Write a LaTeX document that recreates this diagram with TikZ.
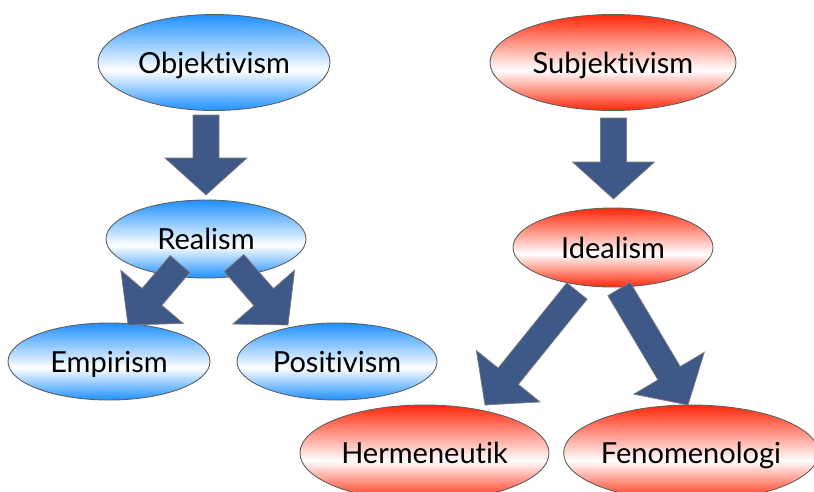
\documentclass[tikz,border=0pt]{standalone}
\usepackage{fontspec}
\setmainfont{Lato}[Ligatures=NoCommon]
\usetikzlibrary{shapes.geometric,calc}

\definecolor{ellblue}{RGB}{30,144,255}
\definecolor{ellred}{RGB}{255,40,10}
\definecolor{arrowfill}{RGB}{62,88,135}
\definecolor{rimgray}{RGB}{95,95,95}

% glossy fills: strong colour at top and bottom, white band just below the middle
\pgfdeclareverticalshading{blueglow}{100bp}{color(0bp)=(ellblue); color(25bp)=(ellblue); color(46bp)=(white); color(75bp)=(ellblue); color(100bp)=(ellblue)}
\pgfdeclareverticalshading{redglow}{100bp}{color(0bp)=(ellred); color(25bp)=(ellred); color(46bp)=(white); color(75bp)=(ellred); color(100bp)=(ellred)}

\tikzset{
  term/.style={ellipse, draw=rimgray, line width=0.9pt, inner sep=0pt,
    font=\fontsize{29}{33}\selectfont, text height=21pt, text depth=0pt},
  objside/.style={term, shading=blueglow},
  subjside/.style={term, shading=redglow},
  blockarrow/.style={fill=arrowfill, draw=rimgray!80, line width=0.7pt, line join=miter},
}

% block arrow from #1 (middle of the shaft end) to #2 (tip)
\newcommand{\blockarrow}[2]{%
  \coordinate (#1-base) at ($(#2)!37pt!(#1)$);
  \draw[blockarrow]
    ($(#1)!13pt!90:(#2)$) --
    ($(#1-base)!13pt!90:(#2)$) --
    ($(#1-base)!41pt!90:(#2)$) --
    (#2) --
    ($(#1-base)!41pt!-90:(#2)$) --
    ($(#1-base)!13pt!-90:(#2)$) --
    ($(#1)!13pt!-90:(#2)$) -- cycle;}

\begin{document}
\begin{tikzpicture}[x=1pt, y=-1pt]
\useasboundingbox (0,0) rectangle (814,491);
\clip (0,0) rectangle (814,491);

% objectivist branch
\node[objside, minimum width=232pt, minimum height=96pt] (obj)  at (214,62.5)  {Objektivism};
\node[objside, minimum width=200pt, minimum height=78pt] (real) at (206,239)   {Realism};
\node[objside, minimum width=202pt, minimum height=77pt] (emp)  at (109,361.5) {Empirism};
\node[objside, minimum width=200pt, minimum height=77pt] (pos)  at (337,361.5) {Positivism};

% subjectivist branch
\node[subjside, minimum width=246pt, minimum height=96pt] (subj)  at (613,62.5) {Subjektivism};
\node[subjside, minimum width=200pt, minimum height=79pt] (ideal) at (613,247.5) {Idealism};
\node[subjside, minimum width=249pt, minimum height=96pt] (herm)  at (424.5,453) {Hermeneutik};
\node[subjside, minimum width=246pt, minimum height=96pt] (fen)   at (691,453)   {Fenomenologi};

% arrow ends
\coordinate (objOut)    at (206,115);  \coordinate (realIn)  at (206,195);
\coordinate (realOutL)  at (180,264);  \coordinate (empIn)   at (128,325);
\coordinate (realOutR)  at (234,263);  \coordinate (posIn)   at (288,325);
\coordinate (subjOut)   at (613.5,118);\coordinate (idealIn) at (613.5,199);
\coordinate (idealOutL) at (577,291);  \coordinate (hermIn)  at (485,405);
\coordinate (idealOutR) at (619,289);  \coordinate (fenIn)   at (688,405);

\blockarrow{objOut}{realIn}
\blockarrow{realOutL}{empIn}
\blockarrow{realOutR}{posIn}
\blockarrow{subjOut}{idealIn}
\blockarrow{idealOutL}{hermIn}
\blockarrow{idealOutR}{fenIn}
\end{tikzpicture}
\end{document}
